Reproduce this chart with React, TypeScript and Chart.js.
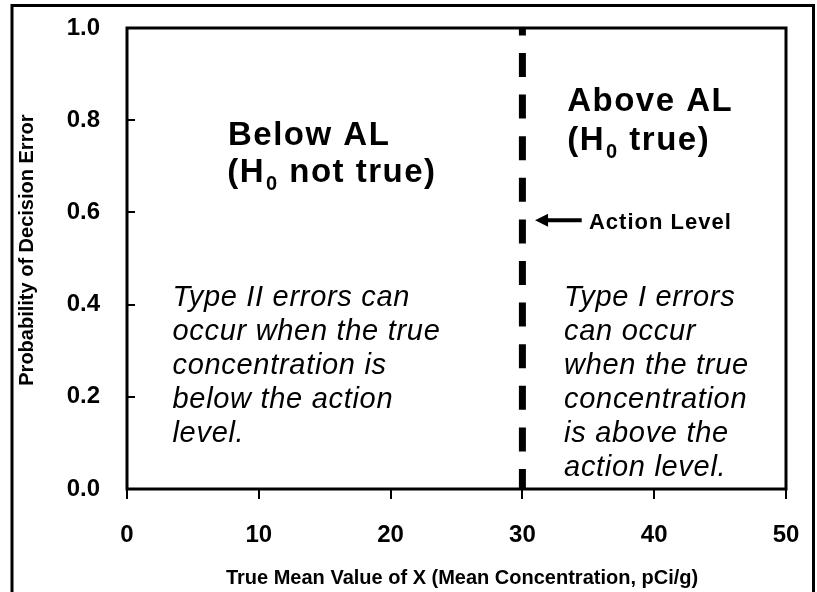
import { useEffect, useRef } from 'react';
import { Chart, registerables } from 'chart.js';

Chart.register(...registerables);

// ---- data ----
const xTickValues = [0, 10, 20, 30, 40, 50];
const yTickValues = [0, 0.2, 0.4, 0.6, 0.8, 1.0];
const actionLevel = 30;
const actionLineY = [0, 1];
const xTitle = 'True Mean Value of X (Mean Concentration, pCi/g)';
const yTitle = 'Probability of Decision Error';
const belowHeading = 'Below AL';
const belowHypothesis = ['(H', '0', ' not true)'];
const aboveHeading = 'Above AL';
const aboveHypothesis = ['(H', '0', ' true)'];
const actionLabel = 'Action Level';
const typeIILines = ['Type II errors can', 'occur when the true', 'concentration is', 'below the action', 'level.'];
const typeILines = ['Type I errors', 'can occur', 'when the true', 'concentration', 'is above the', 'action level.'];

const FONT = "'Liberation Sans', Arial, Helvetica, sans-serif";

function drawSubText(ctx: CanvasRenderingContext2D, parts: string[], x: number, y: number, size: number) {
  ctx.font = `bold ${size}px ${FONT}`;
  ctx.fillText(parts[0], x, y);
  let cx = x + ctx.measureText(parts[0]).width;
  ctx.font = `bold ${Math.round(size * 0.62)}px ${FONT}`;
  ctx.fillText(parts[1], cx + 1, y + size * 0.25);
  cx += ctx.measureText(parts[1]).width + 1;
  ctx.font = `bold ${size}px ${FONT}`;
  ctx.fillText(parts[2], cx, y);
}

const overlay = {
  id: 'overlay',
  beforeDraw(chart: any) {
    const ctx = chart.ctx as CanvasRenderingContext2D;
    ctx.save();
    ctx.fillStyle = '#fff';
    ctx.fillRect(0, 0, chart.width, chart.height);
    ctx.strokeStyle = '#000';
    ctx.lineWidth = 3;
    ctx.strokeRect(12, 5.5, 801.5, 700);
    ctx.restore();
  },
  afterDraw(chart: any) {
    const ctx = chart.ctx as CanvasRenderingContext2D;
    const a = chart.chartArea;
    const xs = chart.scales.x;
    const ys = chart.scales.y;
    const px = (v: number) => xs.getPixelForValue(v);
    const py = (v: number) => ys.getPixelForValue(v);
    ctx.save();
    ctx.strokeStyle = '#000';
    ctx.fillStyle = '#000';
    // frame
    ctx.lineWidth = 3;
    ctx.strokeRect(a.left, a.top, a.right - a.left, a.bottom - a.top);
    // inward y ticks
    ctx.lineWidth = 2;
    yTickValues.forEach((v) => {
      const y = Math.round(py(v));
      ctx.beginPath();
      ctx.moveTo(a.left, y);
      ctx.lineTo(a.left + 8, y);
      ctx.stroke();
    });
    // outward x ticks
    xTickValues.forEach((v) => {
      const x = Math.round(px(v));
      ctx.beginPath();
      ctx.moveTo(x, a.bottom);
      ctx.lineTo(x, a.bottom + 10);
      ctx.stroke();
    });
    // headings
    (ctx as any).letterSpacing = '1.5px';
    ctx.textBaseline = 'alphabetic';
    ctx.textAlign = 'left';
    ctx.font = `bold 33px ${FONT}`;
    ctx.fillText(belowHeading, px(7.66), py(0.746));
    drawSubText(ctx, belowHypothesis, px(7.6), py(0.667), 33);
    ctx.font = `bold 33px ${FONT}`;
    ctx.fillText(aboveHeading, px(33.4), py(0.82));
    drawSubText(ctx, aboveHypothesis, px(33.4), py(0.735), 33);
    // action level arrow + label
    (ctx as any).letterSpacing = '1px';
    const ay = py(0.583);
    const tip = px(30.96);
    const tail = px(34.5);
    ctx.lineWidth = 4;
    ctx.beginPath();
    ctx.moveTo(tip + 10, ay);
    ctx.lineTo(tail, ay);
    ctx.stroke();
    ctx.beginPath();
    ctx.moveTo(tip, ay);
    ctx.lineTo(tip + 13, ay - 6.5);
    ctx.lineTo(tip + 13, ay + 6.5);
    ctx.closePath();
    ctx.fill();
    ctx.font = `bold 22px ${FONT}`;
    ctx.fillText(actionLabel, px(35.05), py(0.564));
    // italic notes
    (ctx as any).letterSpacing = '0.7px';
    ctx.font = `italic 29px ${FONT}`;
    const step = 0.0738;
    typeIILines.forEach((t, i) => ctx.fillText(t, px(3.45), py(0.397 - i * step)));
    typeILines.forEach((t, i) => ctx.fillText(t, px(33.16), py(0.397 - i * step)));
    ctx.restore();
  },
};

export default function App() {
  const ref = useRef<HTMLCanvasElement | null>(null);
  useEffect(() => {
    if (!ref.current) return;
    const chart = new Chart(ref.current, {
      type: 'line',
      data: {
        datasets: [
          {
            label: 'Action Level',
            data: actionLineY.map((y) => ({ x: actionLevel, y })),
            borderColor: '#000',
            borderWidth: 7,
            borderDash: [24, 17.6],
            borderDashOffset: 4,
            borderCapStyle: 'butt',
            pointRadius: 0,
            fill: false,
          },
        ],
      },
      options: {
        responsive: false,
        animation: false,
        events: [],
        layout: { padding: { left: 0, top: 28, right: 31, bottom: 0 } },
        plugins: { legend: { display: false }, tooltip: { enabled: false }, title: { display: false } },
        scales: {
          x: {
            type: 'linear',
            min: 0,
            max: 50,
            afterBuildTicks: (s: any) => {
              s.ticks = xTickValues.map((v) => ({ value: v }));
            },
            afterFit: (s: any) => {
              s.height = 103;
            },
            grid: {
              display: true,
              drawOnChartArea: false,
              drawTicks: true,
              tickLength: 32,
              tickWidth: 0,
              tickColor: 'rgba(0,0,0,0)',
              color: 'rgba(0,0,0,0)',
            },
            border: { display: false },
            ticks: {
              color: '#000',
              padding: 0,
              maxRotation: 0,
              font: { family: FONT, size: 24, weight: 'bold' },
            },
            title: {
              display: true,
              text: '  ' + xTitle,
              color: '#000',
              padding: { top: 0, bottom: 2 },
              font: { family: FONT, size: 20, weight: 'bold' },
            },
          },
          y: {
            type: 'linear',
            min: 0,
            max: 1,
            afterBuildTicks: (s: any) => {
              s.ticks = yTickValues.map((v) => ({ value: v }));
            },
            afterFit: (s: any) => {
              s.width = 127;
            },
            grid: {
              display: true,
              drawOnChartArea: false,
              drawTicks: true,
              tickLength: 27,
              tickWidth: 0,
              tickColor: 'rgba(0,0,0,0)',
              color: 'rgba(0,0,0,0)',
            },
            border: { display: false },
            ticks: {
              color: '#000',
              padding: 0,
              callback: (v: any) => Number(v).toFixed(1),
              font: { family: FONT, size: 24, weight: 'bold' },
            },
            title: {
              display: true,
              text: '   ' + yTitle,
              color: '#000',
              padding: { top: 15, bottom: 0 },
              font: { family: FONT, size: 20, weight: 'bold' },
            },
          },
        },
      },
      plugins: [overlay],
    } as any);
    return () => chart.destroy();
  }, []);
  return (
    <div style={{ position: 'fixed', left: 0, top: 0, width: 817, height: 592, background: '#fff' }}>
      <canvas ref={ref} width={817} height={592} style={{ display: 'block' }} />
    </div>
  );
}
